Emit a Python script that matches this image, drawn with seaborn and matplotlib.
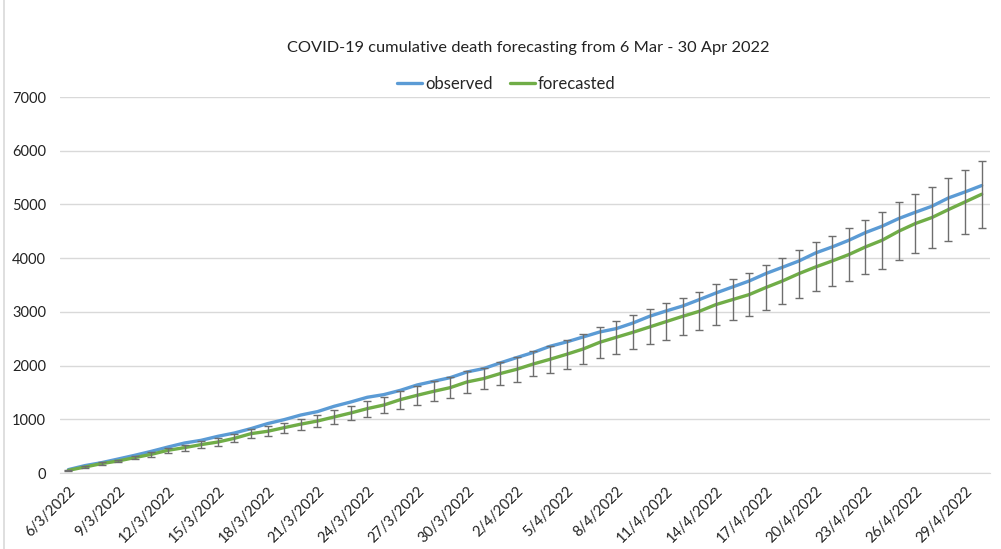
import pandas as pd
import matplotlib.pyplot as plt
import seaborn as sns

# daily dates, 6 Mar - 30 Apr 2022
dates = pd.date_range('2022-03-06', '2022-04-30', freq='D')
labels = [f'{d.day}/{d.month}/{d.year}' for d in dates]

observed = [63, 138, 193, 261, 330, 404, 484, 559, 609, 683, 745, 827, 920, 994,
            1080, 1143, 1242, 1322, 1410, 1460, 1540, 1639, 1708, 1776, 1881, 1944, 2049, 2149, 2245,
            2359, 2440, 2533, 2626, 2689, 2793, 2918, 3017, 3110, 3229, 3352, 3464, 3575, 3713,
            3830, 3948, 4097, 4209, 4333, 4476, 4594, 4737, 4854, 4966, 5121, 5233, 5352]
forecasted = [50, 112, 175, 224, 287, 348, 423, 473, 529, 577, 646, 733, 777, 845,
              910, 968, 1043, 1117, 1199, 1266, 1367, 1447, 1521, 1590, 1695, 1758, 1851, 1931, 2030,
              2117, 2210, 2309, 2434, 2527, 2620, 2719, 2819, 2918, 3011, 3136, 3229, 3322, 3453,
              3575, 3713, 3836, 3948, 4067, 4209, 4333, 4501, 4644, 4756, 4905, 5047, 5190]
error = [6, 13, 21, 27, 34, 42, 50, 55, 58, 66, 72, 80, 90, 92,
         102, 118, 137, 134, 149, 149, 168, 177, 189, 192, 202, 196, 214, 230, 233,
         248, 267, 276, 289, 310, 313, 326, 351, 348, 357, 388, 385, 397, 413,
         434, 447, 456, 466, 490, 506, 531, 543, 555, 562, 593, 602, 624]

df = pd.DataFrame({'idx': range(len(labels)), 'label': labels,
                   'observed': observed, 'forecasted': forecasted, 'error': error})

sns.set_style('white')
plt.rcParams['font.family'] = ['Lato', 'DejaVu Sans']

fig = plt.figure(figsize=(10.01, 5.49), dpi=100)
ax = fig.add_axes([0.06, 0.1384, 0.929, 0.6849])

blue = '#5B9BD5'
green = '#70AD47'

sns.lineplot(data=df, x='idx', y='observed', ax=ax, color=blue, linewidth=2.4,
             label='observed', zorder=3)
sns.lineplot(data=df, x='idx', y='forecasted', ax=ax, color=green, linewidth=2.4,
             label='forecasted', zorder=3)
ax.errorbar(df['idx'], df['forecasted'], yerr=df['error'], fmt='none',
            ecolor='#6E6E6E', elinewidth=1, capsize=3, capthick=1, zorder=4)

ax.set_xlim(-0.5, len(labels) - 0.5)
ax.set_ylim(0, 7000)
ax.set_yticks(range(0, 7001, 1000))
ax.grid(axis='y', color='#D9D9D9', linewidth=1)
ax.set_axisbelow(True)

# labels every 3rd day, tick marks at category borders
ax.set_xticks(df['idx'][::3])
ax.set_xticklabels(df['label'][::3], rotation=45, ha='right', rotation_mode='anchor')
ax.set_xticks([i - 0.5 for i in range(0, len(labels), 3)], minor=True)
ax.tick_params(axis='x', which='major', length=0, pad=8, labelsize=10.5, labelcolor='#222222')
ax.tick_params(axis='x', which='minor', length=5, color='#D9D9D9', width=1)
ax.tick_params(axis='y', length=0, pad=10, labelsize=10.5, labelcolor='#222222')

for s in ['top', 'right', 'left']:
    ax.spines[s].set_visible(False)
ax.spines['bottom'].set_color('#D9D9D9')
ax.set_xlabel('')
ax.set_ylabel('')

fig.text(0.528, 0.912, 'COVID-19 cumulative death forecasting from 6 Mar - 30 Apr 2022',
         ha='center', va='center', fontsize=11.8, color='#222222')
ax.legend(loc='center', bbox_to_anchor=(0.48, 1.035), ncol=2, frameon=False,
          fontsize=12, handlelength=1.5, handletextpad=0.2, columnspacing=1.0)

fig.patches.append(plt.Rectangle((0.004, -0.02), 1.1, 1.1, transform=fig.transFigure,
                                 fill=False, edgecolor='#D9D9D9', linewidth=1.2))

fig.savefig('out.png', dpi=100)
